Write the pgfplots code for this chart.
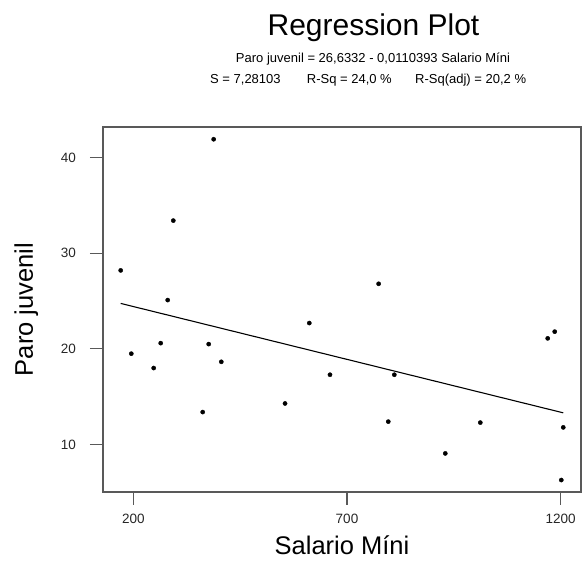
\documentclass[border=0pt]{standalone}
\usepackage{fontspec}
\setmainfont{Liberation Sans}
\usepackage{pgfplots}
\pgfplotsset{compat=1.18}
\definecolor{framegray}{gray}{0.35}
\begin{document}
\begin{tikzpicture}
\path[use as bounding box] (-103pt,-70pt) rectangle (481pt,492pt);
\begin{axis}[
  at={(0pt,0pt)}, anchor=south west,
  scale only axis, width=478pt, height=365pt,
  xmin=129.1, xmax=1247.5, ymin=5.05, ymax=43.18,
  xtick={200,700,1200}, ytick={10,20,30,40},
  tick pos=left, tick align=outside, major tick length=13pt,
  axis line style={framegray, line width=1.1pt},
  tick style={framegray, line width=1.1pt},
  /pgf/number format/assume math mode=true,
  /pgf/number format/1000 sep={},
  ticklabel style={font=\fontsize{13.5}{16}\selectfont, text=black!85},
  xticklabel style={inner sep=0pt, anchor=north, yshift=-9pt},
  yticklabel style={inner sep=0pt, anchor=east, xshift=-14pt},
  xlabel={Salario Míni},
  ylabel={Paro juvenil},
  xlabel style={at={(axis description cs:0.5,0)}, anchor=base, yshift=-63pt, font=\fontsize{25.5}{30}\selectfont},
  ylabel style={at={(axis description cs:0,0.5)}, anchor=base, yshift=70pt, font=\fontsize{25.5}{30}\selectfont},
  clip=false,
]
\addplot[only marks, mark=*, mark size=2.1pt, black] coordinates {
(388,41.9) (293.6,33.4) (170.5,28.2) (280.5,25.1) (774,26.8)
(195.3,19.5) (264.1,20.6) (376.4,20.5) (247.7,18.0) (405.9,18.65)
(362.4,13.4) (555,14.3) (611.8,22.7) (660.2,17.3) (1169.6,21.1)
(1186,21.8) (810.7,17.3) (796.6,12.4) (1011.9,12.3) (1206,11.8)
(930,9.08) (1201.4,6.3)
};
\addplot[black, line width=1.1pt] coordinates {(170.5,24.75) (1206,13.32)};
\end{axis}
\node[anchor=base, inner sep=0pt, font=\fontsize{30}{36}\selectfont] at (270.5pt,456.3pt) {Regression Plot};
\node[anchor=base, inner sep=0pt, font=\fontsize{13}{16}\selectfont] at (270pt,429.3pt) {Paro juvenil = 26,6332 - 0,0110393 Salario Míni};
\node[anchor=base west, inner sep=0pt, font=\fontsize{13}{16}\selectfont] at (107pt,408pt) {S = 7,28103};
\node[anchor=base west, inner sep=0pt, font=\fontsize{13}{16}\selectfont] at (203.7pt,408pt) {R-Sq = 24,0 \%};
\node[anchor=base west, inner sep=0pt, font=\fontsize{13}{16}\selectfont] at (312pt,408pt) {R-Sq(adj) = 20,2 \%};
\end{tikzpicture}
\end{document}
